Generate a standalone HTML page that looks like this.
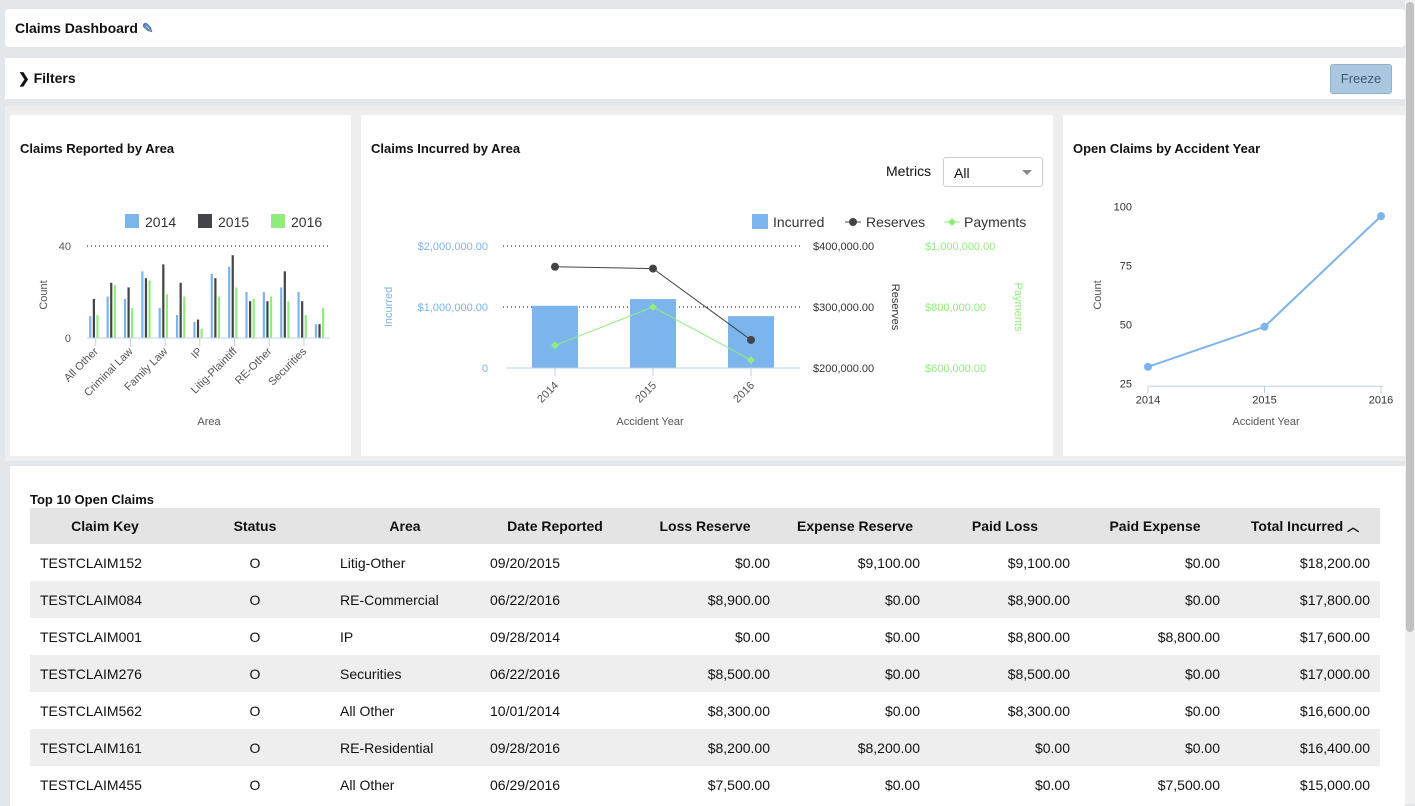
<!DOCTYPE html>
<html><head><meta charset="utf-8">
<style>
*{box-sizing:border-box;margin:0;padding:0}
body{width:1415px;height:804px;overflow:hidden;background:#e4e7ea;font-family:"Liberation Sans",sans-serif;color:#111;position:relative}
.card{position:absolute;background:#fff}
.ttl{font-weight:bold;font-size:13px;position:absolute}
table{border-collapse:collapse;position:absolute;left:30px;top:508px;width:1350px;table-layout:fixed;font-size:14px}
th{background:#e4e4e4;height:36px;font-weight:bold;text-align:center;font-size:14px}
td{height:37px;padding:0 10px}
tr.alt td{background:#eeeeee}
td.r{text-align:right}td.c{text-align:center}
svg text{font-family:"Liberation Sans",sans-serif}
</style></head><body>
<div class="card" style="left:5px;top:9px;width:1400px;height:38px;border-radius:4px">
 <div class="ttl" style="left:10px;top:11px;font-size:14px">Claims Dashboard <span style="color:#5a7fb0">✎</span></div>
</div>
<div class="card" style="left:5px;top:58px;width:1400px;height:41px">
 <div class="ttl" style="left:13px;top:12px;font-size:14px">❯ Filters</div>
 <div style="position:absolute;left:1325px;top:6px;width:62px;height:30px;background:#a9c8e0;border:1px solid #8fb2cf;border-radius:3px;color:#3c5a78;font-size:13px;text-align:center;line-height:28px">Freeze</div>
</div>
<div style="position:absolute;left:5px;top:106px;width:1400px;height:355px;background:#eeeeee"></div>
<div class="card" style="left:10px;top:115px;width:341px;height:341px">
 <div class="ttl" style="left:10px;top:26px">Claims Reported by Area</div>
 <svg id="c1" width="341" height="341" style="position:absolute;left:0;top:0"></svg>
</div>
<div class="card" style="left:361px;top:115px;width:692px;height:341px">
 <div class="ttl" style="left:10px;top:26px">Claims Incurred by Area</div>
 <div style="position:absolute;left:525px;top:48px;font-size:14px">Metrics</div>
 <div style="position:absolute;left:582px;top:42px;width:100px;height:30px;border:1px solid #ccc;border-radius:3px;font-size:14px;padding:7px 10px">All<span style="position:absolute;right:10px;top:12px;border-left:5px solid transparent;border-right:5px solid transparent;border-top:5px solid #888"></span></div>
 <svg id="c2" width="692" height="341" style="position:absolute;left:0;top:0"></svg>
</div>
<div class="card" style="left:1063px;top:115px;width:342px;height:341px">
 <div class="ttl" style="left:10px;top:26px">Open Claims by Accident Year</div>
 <svg id="c3" width="342" height="341" style="position:absolute;left:0;top:0"></svg>
</div>
<div class="card" style="left:10px;top:466px;width:1395px;height:340px">
 <div class="ttl" style="left:20px;top:26px">Top 10 Open Claims</div>
</div>
<table>
<tr><th>Claim Key</th><th>Status</th><th>Area</th><th>Date Reported</th><th>Loss Reserve</th><th>Expense Reserve</th><th>Paid Loss</th><th>Paid Expense</th><th>Total Incurred <span style="font-size:12px">︿</span></th></tr>
<tr><td>TESTCLAIM152</td><td class="c">O</td><td>Litig-Other</td><td>09/20/2015</td><td class="r">$0.00</td><td class="r">$9,100.00</td><td class="r">$9,100.00</td><td class="r">$0.00</td><td class="r">$18,200.00</td></tr>
<tr class="alt"><td>TESTCLAIM084</td><td class="c">O</td><td>RE-Commercial</td><td>06/22/2016</td><td class="r">$8,900.00</td><td class="r">$0.00</td><td class="r">$8,900.00</td><td class="r">$0.00</td><td class="r">$17,800.00</td></tr>
<tr><td>TESTCLAIM001</td><td class="c">O</td><td>IP</td><td>09/28/2014</td><td class="r">$0.00</td><td class="r">$0.00</td><td class="r">$8,800.00</td><td class="r">$8,800.00</td><td class="r">$17,600.00</td></tr>
<tr class="alt"><td>TESTCLAIM276</td><td class="c">O</td><td>Securities</td><td>06/22/2016</td><td class="r">$8,500.00</td><td class="r">$0.00</td><td class="r">$8,500.00</td><td class="r">$0.00</td><td class="r">$17,000.00</td></tr>
<tr><td>TESTCLAIM562</td><td class="c">O</td><td>All Other</td><td>10/01/2014</td><td class="r">$8,300.00</td><td class="r">$0.00</td><td class="r">$8,300.00</td><td class="r">$0.00</td><td class="r">$16,600.00</td></tr>
<tr class="alt"><td>TESTCLAIM161</td><td class="c">O</td><td>RE-Residential</td><td>09/28/2016</td><td class="r">$8,200.00</td><td class="r">$8,200.00</td><td class="r">$0.00</td><td class="r">$0.00</td><td class="r">$16,400.00</td></tr>
<tr><td>TESTCLAIM455</td><td class="c">O</td><td>All Other</td><td>06/29/2016</td><td class="r">$7,500.00</td><td class="r">$0.00</td><td class="r">$0.00</td><td class="r">$7,500.00</td><td class="r">$15,000.00</td></tr>
</table>
<div style="position:absolute;left:1405px;top:0;width:10px;height:804px;background:#f0f0f0"><div style="position:absolute;left:1px;top:2px;width:8px;height:630px;background:#c1c1c1;border-radius:4px"></div></div>
<script>
const NS='http://www.w3.org/2000/svg';
function el(svg,tag,a,txt){const e=document.createElementNS(NS,tag);for(const k in a)e.setAttribute(k,a[k]);if(txt!==undefined)e.textContent=txt;svg.appendChild(e);return e;}
// Chart 1 data
const areas=['All Other','Commercial','Criminal Law','Employment','Family Law','Insurance','IP','Litig-Defense','Litig-Plaintiff','RE-Commercial','RE-Other','RE-Residential','Securities','Other'];
const s2014=[9.5,18,17,29,13,10,7,28,31,20,20,22,20,6];
const s2015=[17,24,22,26,32,24,8,26,36,16,16,29,16,6];
const s2016=[10,23,13,25,19,18,4,18,22,17,18,16,10,13];
const c1Ticks=[0,40];
// Chart 2 data
const years=['2014','2015','2016'];
const incurred=[1020000,1130000,850000];
const reserves=[366000,363000,246000];
const payments=[674000,800000,626000];
const incTicks=[0,1000000,2000000];
const resTicks=[200000,300000,400000];
const payTicks=[600000,800000,1000000];
// Chart 3 data
const openYears=['2014','2015','2016'];
const openCounts=[32,49,96];
const c3Ticks=[25,50,75,100];
const money=v=>v===0?'0':'$'+v.toLocaleString('en-US',{minimumFractionDigits:2});

(function(){
 const s=document.getElementById('c1');const ox=10,oy=115;
 const x0=87-ox,x1=330-ox,yb=338-oy,yt=246-oy;
 const y=v=>yb-(v-0)/(40-0)*(yb-yt);
 const gw=(x1-x0)/areas.length;
 // legend
 const cols=['#7cb5ec','#434348','#90ed7d'],names=['2014','2015','2016'];
 names.forEach((n,i)=>{const lx=115+i*73;
  const r=el(s,'rect',{x:lx,y:99,width:14,height:14,fill:cols[i]});
  
  const t=el(s,'text',{x:lx+20,y:112,'font-size':14,fill:'#333'},n);
  });
 c1Ticks.forEach(v=>{
  if(v>0){const g=el(s,'line',{x1:x0,x2:x1,y1:y(v),y2:y(v),stroke:'#000','stroke-dasharray':'1,3'});}
  const t=el(s,'text',{x:x0-16,y:y(v)+4,'font-size':11,fill:'#555','text-anchor':'end'},v);});
 [s2014,s2015,s2016].forEach((ser,si)=>ser.forEach((v,i)=>{
  const cx=x0+gw*(i+0.5);
  const r=el(s,'rect',{x:cx-5.5+si*3.6-1,y:y(v),width:2.2,height:yb-y(v),fill:cols[si]});
  }));
 const ax=el(s,'line',{x1:x0,x2:x1,y1:yb,y2:yb,stroke:'#c0d0e0'});
 areas.forEach((a,i)=>{if(i%2)return;const cx=x0+gw*(i+0.5);
  el(s,'line',{x1:cx,x2:cx,y1:yb,y2:yb+8,stroke:'#c0d0e0'});
  const t=el(s,'text',{x:cx+3,y:yb+14,'font-size':11,fill:'#555','text-anchor':'end',transform:`rotate(-45 ${cx+3} ${yb+14})`},a);
  });
 const yt2=el(s,'text',{x:0,y:0,'font-size':11,fill:'#555','text-anchor':'middle',transform:'translate(37 180) rotate(-90)'},'Count');
 const xt=el(s,'text',{x:199,y:310,'font-size':11,fill:'#555','text-anchor':'middle'},'Area');
})();

(function(){
 const s=document.getElementById('c2');const ox=361,oy=115;
 const x0=506-ox,x1=800-ox,yb=368-oy,yt=246-oy;
 const yI=v=>yb-v/2000000*(yb-yt);
 const yR=v=>yb-(v-200000)/200000*(yb-yt);
 const yP=v=>yb-(v-600000)/400000*(yb-yt);
 const cw=(x1-x0)/years.length;const cx=i=>x0+cw*(i+0.5);
 // legend
 let r=el(s,'rect',{x:391,y:99,width:16,height:15,fill:'#7cb5ec'});
 el(s,'text',{x:412,y:112,'font-size':14,fill:'#333'},'Incurred');
 el(s,'line',{x1:484,x2:500,y1:107,y2:107,stroke:'#434348'});el(s,'circle',{cx:492,cy:107,r:4,fill:'#434348'});
 r=el(s,'text',{x:505,y:112,'font-size':14,fill:'#333'},'Reserves');
 el(s,'line',{x1:583,x2:599,y1:107,y2:107,stroke:'#90ed7d'});el(s,'path',{d:'M591 103 L595 107 L591 111 L587 107Z',fill:'#90ed7d'});
 r=el(s,'text',{x:603,y:112,'font-size':14,fill:'#333'},'Payments');
 incTicks.forEach(v=>{
  if(v>0){const g=el(s,'line',{x1:x0-3,x2:x1,y1:yI(v),y2:yI(v),stroke:'#000','stroke-dasharray':'1,3'});}
  const t=el(s,'text',{x:x0-18,y:yI(v)+4,'font-size':11,fill:'#7cb5ec','text-anchor':'end'},money(v));});
 resTicks.forEach(v=>{const t=el(s,'text',{x:452,y:yR(v)+4,'font-size':11,fill:'#333'},money(v));});
 payTicks.forEach(v=>{const t=el(s,'text',{x:564,y:yP(v)+4,'font-size':11,fill:'#90ed7d'},money(v));});
 incurred.forEach((v,i)=>{const b=el(s,'rect',{x:cx(i)-23,y:yI(v),width:46,height:yb-yI(v),fill:'#7cb5ec'});});
 const ax=el(s,'line',{x1:x0,x2:x1,y1:yb,y2:yb,stroke:'#c0d0e0'});
 el(s,'polyline',{points:reserves.map((v,i)=>cx(i)+','+yR(v)).join(' '),fill:'none',stroke:'#434348','stroke-width':1});
 reserves.forEach((v,i)=>{const p=el(s,'circle',{cx:cx(i),cy:yR(v),r:4,fill:'#434348'});});
 el(s,'polyline',{points:payments.map((v,i)=>cx(i)+','+yP(v)).join(' '),fill:'none',stroke:'#90ed7d','stroke-width':1});
 payments.forEach((v,i)=>{const X=cx(i),Y=yP(v);const p=el(s,'path',{d:`M${X} ${Y-4} L${X+4} ${Y} L${X} ${Y+4} L${X-4} ${Y}Z`,fill:'#90ed7d'});});
 years.forEach((yv,i)=>{el(s,'line',{x1:cx(i),x2:cx(i),y1:yb,y2:yb+8,stroke:'#c0d0e0'});
  const t=el(s,'text',{x:cx(i)+4,y:yb+18,'font-size':11,fill:'#555','text-anchor':'end',transform:`rotate(-45 ${cx(i)+4} ${yb+18})`},yv);});
 let t=el(s,'text',{x:289,y:310,'font-size':11,fill:'#555','text-anchor':'middle'},'Accident Year');
 t=el(s,'text',{x:0,y:0,'font-size':11,fill:'#7cb5ec','text-anchor':'middle',transform:'translate(31 192) rotate(-90)'},'Incurred');
 t=el(s,'text',{x:0,y:0,'font-size':11,fill:'#333','text-anchor':'middle',transform:'translate(531 192) rotate(90)'},'Reserves');
 t=el(s,'text',{x:0,y:0,'font-size':11,fill:'#90ed7d','text-anchor':'middle',transform:'translate(654 192) rotate(90)'},'Payments');
})();

(function(){
 const s=document.getElementById('c3');const ox=1063,oy=115;
 const yb=383.3-oy,yt=206.7-oy;const y=v=>yb-(v-25)/75*(yb-yt);
 const xs=i=>1148-ox+i*(1381-1148)/(openYears.length-1);
 c3Ticks.forEach(v=>{const t=el(s,'text',{x:69,y:y(v)+4,'font-size':11,fill:'#333','text-anchor':'end'},v);});
 const ax=el(s,'line',{x1:xs(0),x2:xs(2)+2,y1:yb+3,y2:yb+3,stroke:'#c0d0e0'});
 el(s,'polyline',{points:openCounts.map((v,i)=>xs(i)+','+y(v)).join(' '),fill:'none',stroke:'#7cb5ec','stroke-width':2});
 openCounts.forEach((v,i)=>{const p=el(s,'circle',{cx:xs(i),cy:y(v),r:4,fill:'#7cb5ec'});
  el(s,'line',{x1:xs(i),x2:xs(i),y1:yb+3,y2:yb+10,stroke:'#c0d0e0'});
  const t=el(s,'text',{x:xs(i),y:yb+20,'font-size':11,fill:'#333','text-anchor':'middle'},openYears[i]);});
 let t=el(s,'text',{x:203,y:310,'font-size':11,fill:'#555','text-anchor':'middle'},'Accident Year');
 t=el(s,'text',{x:0,y:0,'font-size':11,fill:'#555','text-anchor':'middle',transform:'translate(38 180) rotate(-90)'},'Count');
})();
</script>
</body></html>
